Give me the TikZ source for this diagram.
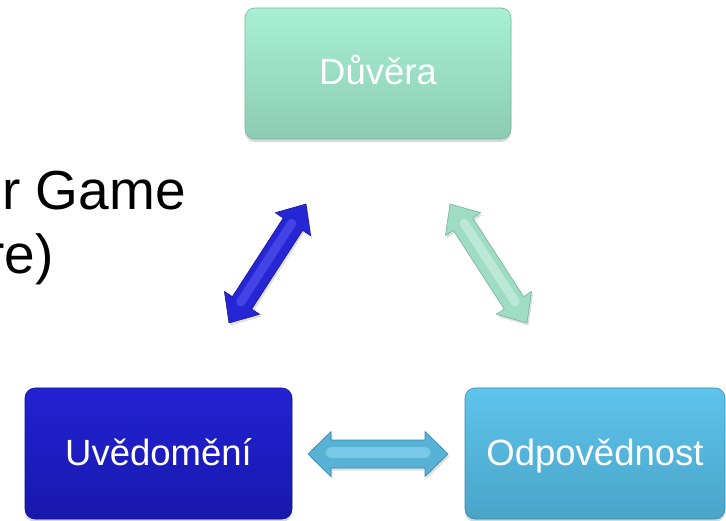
\documentclass[tikz,border=0pt]{standalone}
\usepackage{fontspec}
\setmainfont{Liberation Sans}
\usetikzlibrary{calc,shadows}
\definecolor{mintT}{RGB}{168,240,212}
\definecolor{mintB}{RGB}{140,204,178}
\definecolor{mintD}{RGB}{120,180,156}
\definecolor{blueT}{RGB}{34,34,212}
\definecolor{blueB}{RGB}{24,24,172}
\definecolor{blueD}{RGB}{18,18,140}
\definecolor{cyanT}{RGB}{94,196,236}
\definecolor{cyanB}{RGB}{74,164,200}
\definecolor{cyanD}{RGB}{60,140,175}
\definecolor{barF}{RGB}{38,38,212}
\definecolor{barE}{RGB}{24,24,150}
\definecolor{barM}{RGB}{96,96,248}
\definecolor{garF}{RGB}{158,220,195}
\definecolor{garE}{RGB}{116,180,155}
\definecolor{garM}{RGB}{218,247,235}
\definecolor{harF}{RGB}{88,178,214}
\definecolor{harE}{RGB}{52,136,174}
\definecolor{harM}{RGB}{150,224,248}
\tikzset{
  boxbase/.style={rounded corners=10pt, minimum height=131pt, inner sep=0pt,
    text=white, font=\fontsize{36.5}{40}\selectfont, text height=26pt, text depth=3pt,
    drop shadow={opacity=0.3, shadow xshift=0pt, shadow yshift=-3pt}},
  mintbox/.style={boxbase, top color=mintT, bottom color=mintB, draw=mintD, line width=0.6pt},
  bluebox/.style={boxbase, top color=blueT, bottom color=blueB, draw=blueD, line width=0.6pt},
  cyanbox/.style={boxbase, top color=cyanT, bottom color=cyanB, draw=cyanD, line width=0.6pt},
  arrowbase/.style={line width=0.6pt, line join=round, drop shadow={opacity=0.25, shadow xshift=1.5pt, shadow yshift=-2.5pt}},
  bluearrow/.style={arrowbase, fill=barF, draw=barE},
  greenarrow/.style={arrowbase, fill=garF, draw=garE},
  cyanarrow/.style={arrowbase, fill=harF, draw=harE},
  hlbase/.style={line cap=round, opacity=0.5},
  bluehl/.style={hlbase, draw=barM, line width=9pt},
  greenhl/.style={hlbase, draw=garM, line width=9pt},
  cyanhl/.style={hlbase, draw=harM, line width=11pt},
  bigtext/.style={anchor=base east, inner sep=0pt, text=black, font=\fontsize{55}{60}\selectfont}
}
% #1 from, #2 to, #3 head length, #4 shaft half width, #5 head half width, #6 fill style, #7 highlight style
\newcommand\dblarrow[7]{%
  \path[#6] (#1) -- ($(#1)!#3!(#2)!#5!90:(#2)$) -- ($(#1)!#3!(#2)!#4!90:(#2)$)
    -- ($(#2)!#3!(#1)!#4!-90:(#1)$) -- ($(#2)!#3!(#1)!#5!-90:(#1)$) -- (#2)
    -- ($(#2)!#3!(#1)!#5!90:(#1)$) -- ($(#2)!#3!(#1)!#4!90:(#1)$)
    -- ($(#1)!#3!(#2)!#4!-90:(#2)$) -- ($(#1)!#3!(#2)!#5!-90:(#2)$) -- cycle;
  \draw[#7] ($(#1)!#3!(#2)!1.5pt!90:(#2)$) -- ($(#2)!#3!(#1)!1.5pt!-90:(#1)$);}
\begin{document}
\begin{tikzpicture}[x=1pt,y=-1pt]
\useasboundingbox (0,0) rectangle (726,521);
\fill[white] (0,0) rectangle (726,521);

\node[bigtext] (t1) at (186,210) {r Game};
\node[bigtext] (t2) at (54,274) {re)};

\node[mintbox, minimum width=266pt] (duvera) at (378,73.5) {Důvěra};
\node[bluebox, minimum width=267pt] (uved) at (158.5,453.5) {Uvědomění};
\node[cyanbox, minimum width=260pt] (odpov) at (595,453.5) {Odpovědnost};

\coordinate (ba) at (229,323);
\coordinate (bb) at (306,204);
\coordinate (ga) at (450,204);
\coordinate (gb) at (527,323);
\coordinate (ha) at (308,454);
\coordinate (hb) at (448,454);

\dblarrow{ba}{bb}{24pt}{11.5pt}{21pt}{bluearrow}{bluehl}
\dblarrow{ga}{gb}{24pt}{11.5pt}{21pt}{greenarrow}{greenhl}
\dblarrow{ha}{hb}{23pt}{14pt}{22.5pt}{cyanarrow}{cyanhl}
\end{tikzpicture}
\end{document}
